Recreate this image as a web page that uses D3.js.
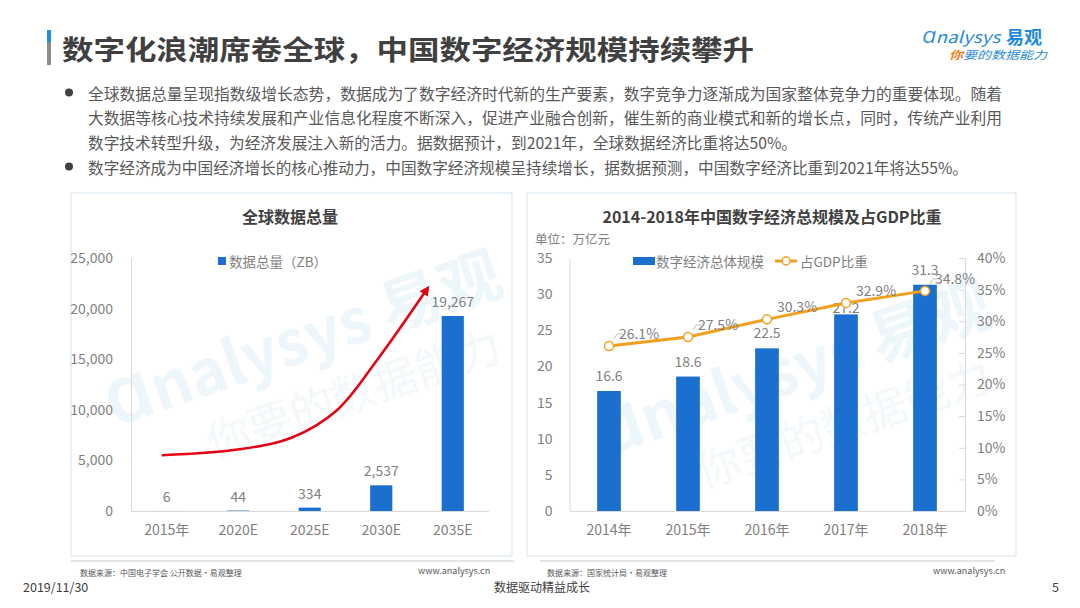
<!DOCTYPE html>
<html>
<head>
<meta charset="utf-8">
<script src="https://cdn.jsdelivr.net/npm/d3@7"></script>
<style>
  body { margin: 0; background: #fff; }
  svg text { font-family: "Noto Sans CJK SC", "Noto Sans", sans-serif; }
</style>
</head>
<body>
<svg id="slide" width="1080" height="608"></svg>
<script>
// ---- data ----
const pageTitle = '数字化浪潮席卷全球，中国数字经济规模持续攀升';
const bulletLines = [
  '全球数据总量呈现指数级增长态势，数据成为了数字经济时代新的生产要素，数字竞争力逐渐成为国家整体竞争力的重要体现。随着',
  '大数据等核心技术持续发展和产业信息化程度不断深入，促进产业融合创新，催生新的商业模式和新的增长点，同时，传统产业利用',
  '数字技术转型升级，为经济发展注入新的活力。据数据预计，到2021年，全球数据经济比重将达50%。',
  '数字经济成为中国经济增长的核心推动力，中国数字经济规模呈持续增长，据数据预测，中国数字经济比重到2021年将达55%。'
];
const bulletStarts = [true, false, false, true];

const globalYears = ['2015年', '2020E', '2025E', '2030E', '2035E'];
const globalVolume = [6, 44, 334, 2537, 19267];
const globalTicks = [0, 5000, 10000, 15000, 20000, 25000];
// red trend arrow, as [band index offset, value]
const trendArrow = [[-0.07, 5510], [1.02, 6100], [1.76, 7290], [2.38, 9960], [2.94, 14900], [3.64, 21930]];

const cnYears = ['2014年', '2015年', '2016年', '2017年', '2018年'];
const cnScale = [16.6, 18.6, 22.5, 27.2, 31.3];
const cnShare = [0.261, 0.275, 0.303, 0.329, 0.348];
const cnTicks = [0, 5, 10, 15, 20, 25, 30, 35];
const shareTicks = [0, 0.05, 0.10, 0.15, 0.20, 0.25, 0.30, 0.35, 0.40];

const blue = '#1b6fce';
const orange = '#f2a01c';
const grayText = '#7f7f7f';
const axisGray = '#d9d9d9';

const svg = d3.select('#slide');

// ---- header ----
svg.append('rect').attr('x', 47).attr('y', 30).attr('width', 4).attr('height', 12).attr('fill', '#1e8ee0');
svg.append('rect').attr('x', 47).attr('y', 42).attr('width', 4).attr('height', 23).attr('fill', '#8c8c8c');
svg.append('text')
  .attr('x', 62).attr('y', 48)
  .attr('dominant-baseline', 'central')
  .attr('font-size', 27).attr('font-weight', 'bold').attr('fill', '#404040')
  .attr('textLength', 692).attr('lengthAdjust', 'spacingAndGlyphs')
  .text(pageTitle);

// logo
const logo = svg.append('g');
logo.append('text').attr('x', 922).attr('y', 36).attr('dominant-baseline', 'central')
  .attr('font-size', 16).attr('fill', '#1f8bd8').attr('font-style', 'italic')
  .attr('textLength', 78).attr('lengthAdjust', 'spacingAndGlyphs')
  .text('Ɑnalysys');
logo.append('text').attr('x', 1006).attr('y', 36).attr('dominant-baseline', 'central')
  .attr('font-size', 18).attr('font-weight', 'bold').attr('fill', '#1f8bd8')
  .text('易观');
const tag = logo.append('text').attr('x', 949).attr('y', 54).attr('dominant-baseline', 'central')
  .attr('font-size', 11).attr('font-style', 'italic')
  .attr('textLength', 98).attr('lengthAdjust', 'spacingAndGlyphs');
tag.append('tspan').attr('fill', '#ef7d1a').attr('font-weight', 'bold').text('你');
tag.append('tspan').attr('fill', '#1f8bd8').text('要的数据能力');

// bullets
const bulletWidths = [914, 914, 709, 880];
bulletLines.forEach((line, i) => {
  const y = 92.5 + i * 24.7;
  if (bulletStarts[i]) {
    svg.append('circle').attr('cx', 69).attr('cy', y).attr('r', 4).attr('fill', '#404040');
  }
  svg.append('text')
    .attr('x', 88).attr('y', y)
    .attr('dominant-baseline', 'central')
    .attr('font-size', 15.5).attr('fill', '#595959')
    .attr('textLength', bulletWidths[i]).attr('lengthAdjust', 'spacingAndGlyphs')
    .text(line);
});

// ---- panels ----
function panel(x, w, lineX0, lineX1, source, srcX, urlX) {
  svg.append('rect').attr('x', x).attr('y', 193).attr('width', w).attr('height', 363)
    .attr('fill', 'none').attr('stroke', '#dbe8f2').attr('stroke-width', 1.2);
  svg.append('line').attr('x1', lineX0).attr('x2', lineX1).attr('y1', 561).attr('y2', 561)
    .attr('stroke', '#c9c9c9').attr('stroke-width', 1);
  svg.append('text').attr('x', srcX).attr('y', 572).attr('dominant-baseline', 'central')
    .attr('font-size', 8).attr('fill', '#595959').text(source);
  svg.append('text').attr('x', urlX).attr('y', 570).attr('dominant-baseline', 'central')
    .attr('font-size', 9).attr('fill', '#595959').text('www.analysys.cn');
}
panel(71, 441, 71, 514, '数据来源：中国电子学会 公开数据•易观整理', 80, 418);
panel(527, 489, 540, 995, '数据来源：国家统计局•易观整理', 547, 933);

function watermark(cx, cy) {
  const g = svg.append('g').attr('transform', `translate(${cx},${cy}) rotate(-19)`)
    .attr('opacity', 0.2);
  g.append('text').attr('x', 0).attr('y', 0).attr('text-anchor', 'middle')
    .attr('font-size', 62).attr('font-weight', 'bold').attr('fill', '#a9d4ee')
    .text('Ɑnalysys 易观');
  g.append('text').attr('x', 30).attr('y', 62).attr('text-anchor', 'middle')
    .attr('font-size', 44).attr('fill', '#c6e0ee')
    .text('你要的数据能力');
}
watermark(310, 360);
watermark(800, 390);

function styleAxis(g) {
  g.select('.domain').attr('stroke', axisGray);
  g.selectAll('.tick line').attr('stroke', axisGray);
  g.selectAll('.tick text').attr('fill', grayText).attr('font-size', 14)
    .style('font-family', '"Noto Sans CJK SC", "Noto Sans", sans-serif');
}

// ---- left chart: 全球数据总量 ----
const x1 = d3.scaleBand().domain(globalYears).range([131, 488.5]).paddingInner(0.69).paddingOuter(0.345);
const y1 = d3.scaleLinear().domain([0, 25000]).range([511, 258]);

svg.append('text').attr('x', 290).attr('y', 216).attr('text-anchor', 'middle')
  .attr('dominant-baseline', 'central').attr('font-size', 16).attr('font-weight', 'bold')
  .attr('fill', '#404040').text('全球数据总量');
svg.append('rect').attr('x', 218).attr('y', 257).attr('width', 8).attr('height', 8).attr('fill', blue);
svg.append('text').attr('x', 229).attr('y', 261).attr('dominant-baseline', 'central')
  .attr('font-size', 13.5).attr('fill', grayText).text('数据总量（ZB）');

svg.append('g').attr('transform', 'translate(131,0)')
  .call(d3.axisLeft(y1).tickValues(globalTicks).tickSize(0).tickPadding(18).tickFormat(d3.format(',')))
  .call(styleAxis);
svg.append('g').attr('transform', 'translate(0,511)')
  .call(d3.axisBottom(x1).tickSize(0).tickPadding(14))
  .call(styleAxis);

svg.append('g').selectAll('rect').data(globalVolume).join('rect')
  .attr('x', (d, i) => x1(globalYears[i]))
  .attr('width', x1.bandwidth())
  .attr('y', d => y1(d))
  .attr('height', d => y1(0) - y1(d))
  .attr('fill', blue);
svg.append('g').selectAll('text').data(globalVolume).join('text')
  .attr('x', (d, i) => x1(globalYears[i]) + x1.bandwidth() / 2)
  .attr('y', d => y1(d) - 15)
  .attr('text-anchor', 'middle').attr('dominant-baseline', 'central')
  .attr('font-size', 14).attr('fill', grayText)
  .text(d => d3.format(',')(d));

// trend arrow
svg.append('defs').append('marker')
  .attr('id', 'arrowHead').attr('viewBox', '0 0 10 10').attr('refX', 6).attr('refY', 5)
  .attr('markerWidth', 4).attr('markerHeight', 4).attr('orient', 'auto')
  .append('path').attr('d', 'M0,0 L10,5 L0,10 Z').attr('fill', '#e60012');
const arrowX = idx => x1(globalYears[0]) + x1.bandwidth() / 2 + idx * x1.step();
svg.append('path')
  .datum(trendArrow)
  .attr('d', d3.line().x(d => arrowX(d[0])).y(d => y1(d[1])).curve(d3.curveCatmullRom))
  .attr('fill', 'none').attr('stroke', '#e60012').attr('stroke-width', 2.5)
  .attr('marker-end', 'url(#arrowHead)');

// ---- right chart: 中国数字经济 ----
const x2 = d3.scaleBand().domain(cnYears).range([569.5, 964.5]).paddingInner(0.7).paddingOuter(0.35);
const y2 = d3.scaleLinear().domain([0, 35]).range([511, 258]);
const y2p = d3.scaleLinear().domain([0, 0.40]).range([511, 258]);

svg.append('text').attr('x', 772).attr('y', 216).attr('text-anchor', 'middle')
  .attr('dominant-baseline', 'central').attr('font-size', 16).attr('font-weight', 'bold')
  .attr('fill', '#404040').text('2014-2018年中国数字经济总规模及占GDP比重');
svg.append('text').attr('x', 535).attr('y', 238).attr('dominant-baseline', 'central')
  .attr('font-size', 12.5).attr('fill', grayText).text('单位：万亿元');

// legend
svg.append('rect').attr('x', 633).attr('y', 257).attr('width', 22).attr('height', 8).attr('fill', blue);
svg.append('text').attr('x', 656).attr('y', 261).attr('dominant-baseline', 'central')
  .attr('font-size', 13.5).attr('fill', grayText).text('数字经济总体规模');
svg.append('line').attr('x1', 775).attr('x2', 797).attr('y1', 261).attr('y2', 261)
  .attr('stroke', orange).attr('stroke-width', 3);
svg.append('circle').attr('cx', 786).attr('cy', 261).attr('r', 4)
  .attr('fill', '#fff').attr('stroke', orange).attr('stroke-width', 1.5);
svg.append('text').attr('x', 800).attr('y', 261).attr('dominant-baseline', 'central')
  .attr('font-size', 13.5).attr('fill', grayText).text('占GDP比重');

svg.append('g').attr('transform', 'translate(569.5,0)')
  .call(d3.axisLeft(y2).tickValues(cnTicks).tickSize(0).tickPadding(17))
  .call(styleAxis);
svg.append('g').attr('transform', 'translate(965,0)')
  .call(d3.axisRight(y2p).tickValues(shareTicks).tickSize(-6).tickSizeOuter(-6).tickPadding(12)
    .tickFormat(d3.format('.0%')))
  .call(styleAxis);
svg.append('g').attr('transform', 'translate(0,511)')
  .call(d3.axisBottom(x2).tickSize(0).tickPadding(14))
  .call(styleAxis);

const cx2 = i => x2(cnYears[i]) + x2.bandwidth() / 2;

svg.append('g').selectAll('rect').data(cnScale).join('rect')
  .attr('x', (d, i) => x2(cnYears[i]))
  .attr('width', x2.bandwidth())
  .attr('y', d => y2(d))
  .attr('height', d => y2(0) - y2(d))
  .attr('fill', blue);
svg.append('g').selectAll('text').data(cnScale).join('text')
  .attr('x', (d, i) => cx2(i))
  .attr('y', (d, i) => y2(d) - (i === 3 ? 7 : 16))
  .attr('text-anchor', 'middle').attr('dominant-baseline', 'central')
  .attr('font-size', 14).attr('fill', grayText)
  .text(d => d3.format('.1f')(d));

svg.append('path')
  .datum(cnShare)
  .attr('d', d3.line().x((d, i) => cx2(i)).y(d => y2p(d)))
  .attr('fill', 'none').attr('stroke', orange).attr('stroke-width', 3);

// leader ticks for the callout labels
svg.append('g').selectAll('path').data(cnShare).join('path')
  .filter((d, i) => i === 0 || i === 1 || i === 4)
  .attr('d', function(d) {
    const i = cnShare.indexOf(d);
    const px = cx2(i), py = y2p(d);
    return `M${px + 5},${py - 7} L${px + 8},${py - 12} L${px + 14},${py - 12}`;
  })
  .attr('fill', 'none').attr('stroke', '#bfbfbf').attr('stroke-width', 1);

svg.append('g').selectAll('circle').data(cnShare).join('circle')
  .attr('cx', (d, i) => cx2(i))
  .attr('cy', d => y2p(d))
  .attr('r', 4.5)
  .attr('fill', '#fff').attr('stroke', orange).attr('stroke-width', 1.5);

svg.append('g').selectAll('text').data(cnShare).join('text')
  .attr('x', (d, i) => cx2(i) + 30)
  .attr('y', d => y2p(d) - 13)
  .attr('text-anchor', 'middle').attr('dominant-baseline', 'central')
  .attr('font-size', 14).attr('fill', grayText)
  .text(d => d3.format('.1%')(d));

// ---- footer ----
svg.append('text').attr('x', 23).attr('y', 586).attr('dominant-baseline', 'central')
  .attr('font-size', 12.5).attr('fill', '#404040').text('2019/11/30');
svg.append('text').attr('x', 542).attr('y', 586).attr('text-anchor', 'middle').attr('dominant-baseline', 'central')
  .attr('font-size', 12).attr('fill', '#404040').text('数据驱动精益成长');
svg.append('text').attr('x', 1052).attr('y', 586).attr('dominant-baseline', 'central')
  .attr('font-size', 12.5).attr('fill', '#404040').text('5');
</script>
</body>
</html>
